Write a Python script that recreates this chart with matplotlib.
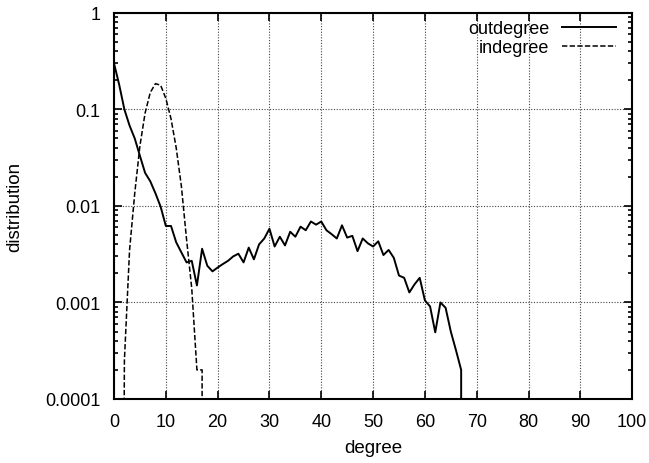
import numpy as np
import matplotlib.pyplot as plt
from matplotlib.ticker import LogLocator, FixedLocator, NullFormatter

# ---------------------------------------------------------------------------
# datos
# ---------------------------------------------------------------------------
grado_out = list(range(0, 68))
dist_out = [0.3, 0.18, 0.1, 0.068, 0.05, 0.033, 0.022, 0.018, 0.0135, 0.0098,
            0.0062, 0.0062, 0.0042, 0.0033, 0.0026, 0.0027, 0.0015, 0.0036, 0.0024, 0.0021,
            0.0023, 0.0025, 0.0027, 0.003, 0.0032, 0.0026, 0.0037, 0.0028, 0.004, 0.0046,
            0.0058, 0.0038, 0.0048, 0.0039, 0.0054, 0.0048, 0.0061, 0.0056, 0.0069, 0.0064,
            0.0069, 0.0056, 0.0051, 0.0046, 0.0063, 0.0047, 0.0049, 0.0034, 0.0046, 0.0041,
            0.0038, 0.0043, 0.0031, 0.0035, 0.0029, 0.0019, 0.0018, 0.00127, 0.00154, 0.0018,
            0.00105, 0.00091, 0.00049, 0.001, 0.00088, 0.0005, 0.00032, 0.0002]

grado_in = list(range(2, 18))
dist_in = [0.00025, 0.0035, 0.0136, 0.042, 0.092, 0.15, 0.185, 0.178, 0.13, 0.08,
           0.04, 0.016, 0.0045, 0.0014, 0.0002, 0.0002]

# la curva cae a cero al final (gnuplot la lleva hasta el borde)
CERO = 1e-6
x_out = grado_out + [grado_out[-1]]
y_out = dist_out + [CERO]
x_in = [grado_in[0] - 0.2] + grado_in + [grado_in[-1]]
y_in = [CERO] + dist_in + [CERO]

xticks = list(range(0, 101, 10))
yticks = [1e-4, 1e-3, 1e-2, 1e-1, 1]
ylabels = ["0.0001", "0.001", "0.01", "0.1", "1"]

# ---------------------------------------------------------------------------
plt.rcParams['font.family'] = ['Liberation Sans', 'DejaVu Sans']
plt.rcParams['font.size'] = 13

fig = plt.figure(figsize=(6.49, 4.64), dpi=100)
ax = fig.add_axes([0.1757, 0.138, 0.7983, 0.832])

ax.plot(x_out, y_out, color='black', lw=1.4, label='outdegree')
ax.plot(x_in, y_in, color='black', lw=1.1, dashes=(3.5, 1.5), label='indegree')

ax.set_yscale('log')
ax.set_xlim(0, 100)
ax.set_ylim(1e-4, 1)

ax.xaxis.set_major_locator(FixedLocator(xticks))
ax.set_xticklabels([str(t) for t in xticks])
ax.yaxis.set_major_locator(FixedLocator(yticks))
ax.set_yticklabels(ylabels)
ax.yaxis.set_minor_locator(LogLocator(base=10, subs=np.arange(2, 10)))
ax.yaxis.set_minor_formatter(NullFormatter())

ax.tick_params(which='both', direction='in', top=True, right=True, width=1.2)
ax.tick_params(which='major', length=6, pad=10, labelsize=13)
ax.tick_params(which='minor', length=3)

ax.grid(True, which='major', color='#444444', linestyle=(0, (1, 1.5)), lw=0.8)
for s in ax.spines.values():
    s.set_linewidth(1.5)

ax.set_xlabel('degree', fontsize=13.5)
ax.set_ylabel('distribution', fontsize=13.5)
ax.xaxis.set_label_coords(0.5, -0.104)
ax.yaxis.set_label_coords(-0.176, 0.5)

ax.legend(loc='upper right', bbox_to_anchor=(1.0, 1.024), frameon=False,
          markerfirst=False, handlelength=3.0, borderaxespad=0.5,
          labelspacing=0.12, handletextpad=0.7, fontsize=13)

fig.savefig('out.png', dpi=100)
